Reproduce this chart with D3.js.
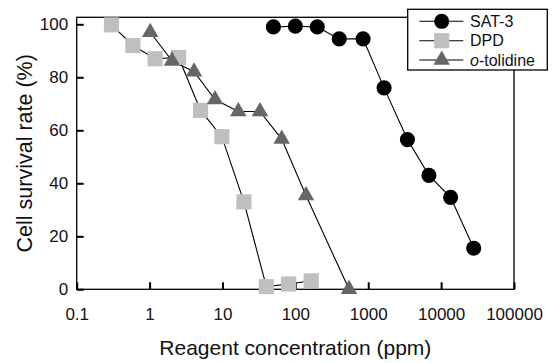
<!DOCTYPE html>
<html><head><meta charset="utf-8">
<script src="https://cdn.jsdelivr.net/npm/d3@7"></script>
<style>
html,body{margin:0;padding:0;background:#fff;}
text{font-family:"Liberation Sans",Arial,Helvetica,sans-serif;fill:#111;}
</style></head>
<body><svg id="c" width="554" height="363"></svg>
<script>
const seriesNames = ["SAT-3", "DPD", "o-tolidine"];
const sat3X = [50, 100, 200, 400, 850, 1650, 3450, 6800, 13500, 28000];
const sat3Y = [99, 99.3, 99, 94.5, 94.5, 76, 56.5, 43, 34.7, 15.5];
const dpdX = [0.3, 0.59, 1.19, 2.5, 5, 9.8, 19.7, 40, 81, 165];
const dpdY = [99.8, 92, 87, 87.5, 67.5, 57.6, 33, 1, 2, 3.2];
const tolX = [1.02, 2.03, 4.07, 7.9, 16.5, 32.7, 65, 140, 545];
const tolY = [97, 86.2, 82.1, 71.6, 67.1, 67.1, 56.7, 35.4, 0];
const xTicks = [0.1, 1, 10, 100, 1000, 10000, 100000];
const xTickLabels = ["0.1", "1", "10", "100", "1000", "10000", "100000"];
const yTicks = [0, 20, 40, 60, 80, 100];

const svg = d3.select("#c");
const L = 76.7, R = 514, T = 17.3, B = 289.3;
const x = d3.scaleLog().domain([0.1, 100000]).range([L, R]);
const y = d3.scaleLinear().domain([0, 102.64]).range([B, T]);

const styles = [
  {sym: d3.symbolCircle, size: 180, fill: "#000"},
  {sym: d3.symbolSquare, size: 230, fill: "#bfbfbf"},
  {sym: d3.symbolTriangle, size: 118, fill: "#666"}
];
const data = [
  d3.zip(sat3X, sat3Y),
  d3.zip(dpdX, dpdY),
  d3.zip(tolX, tolY)
];

// axes
const xAxis = d3.axisBottom(x).tickValues(xTicks)
  .tickFormat((d, i) => xTickLabels[i]).tickSizeInner(-7).tickSizeOuter(0).tickPadding(18.5);
const yAxis = d3.axisLeft(y).tickValues(yTicks).tickSizeInner(-7).tickSizeOuter(0).tickPadding(8.5);
const gx = svg.append("g").attr("transform", `translate(0,${B})`).call(xAxis);
const gy = svg.append("g").attr("transform", `translate(${L},0)`).call(yAxis);
[gx, gy].forEach(g => {
  g.selectAll("path").remove();
  g.selectAll("line").attr("stroke", "#000").attr("stroke-width", 2);
  g.selectAll("text").attr("font-size", 17).style("fill", "#111")
    .attr("font-family", '"Liberation Sans",Arial,sans-serif');
});

svg.append("rect").attr("x", L).attr("y", T).attr("width", R - L).attr("height", B - T)
  .attr("fill", "none").attr("stroke", "#000").attr("stroke-width", 1.3);

// lines then markers
const line = d3.line().x(d => x(d[0])).y(d => y(d[1]));
data.forEach((ds, i) => {
  svg.append("path").datum(ds).attr("d", line).attr("fill", "none")
    .attr("stroke", "#000").attr("stroke-width", 1.1);
});
data.forEach((ds, i) => {
  const st = styles[i];
  svg.append("g").selectAll("path").data(ds).join("path")
    .attr("d", d3.symbol().type(st.sym).size(st.size))
    .attr("transform", d => `translate(${x(d[0])},${y(d[1])})`)
    .attr("fill", st.fill);
});

// axis titles
svg.append("text").attr("x", (L + R) / 2).attr("y", 355).attr("text-anchor", "middle")
  .attr("font-size", 21).text("Reagent concentration (ppm)");
svg.append("text").attr("transform", `translate(32,${(T + B) / 2 + 0}) rotate(-90)`)
  .attr("text-anchor", "middle").attr("font-size", 21.5).text("Cell survival rate (%)");

// legend
const lg = svg.append("g");
lg.append("rect").attr("x", 407.7).attr("y", 9.3).attr("width", 139.6).attr("height", 60.7)
  .attr("fill", "#fff").attr("stroke", "#000").attr("stroke-width", 1.3);
const rowsY = [21.3, 40.7, 60];
seriesNames.forEach((name, i) => {
  const st = styles[i];
  lg.append("line").attr("x1", 419.3).attr("x2", 463.3).attr("y1", rowsY[i]).attr("y2", rowsY[i])
    .attr("stroke", "#000").attr("stroke-width", 1.1);
  lg.append("path").attr("d", d3.symbol().type(st.sym).size(st.size))
    .attr("transform", `translate(441.7,${rowsY[i]})`).attr("fill", st.fill);
  const t = lg.append("text").attr("x", 470).attr("y", rowsY[i]).attr("dy", "0.36em").attr("font-size", 16);
  if (name.startsWith("o-")) {
    t.append("tspan").attr("font-style", "italic").text("o");
    t.append("tspan").text(name.slice(1));
  } else t.text(name);
});
</script></body></html>
